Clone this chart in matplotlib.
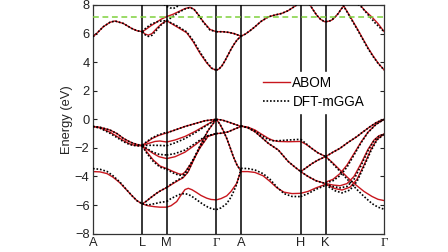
import matplotlib
matplotlib.use('Agg')
import matplotlib.pyplot as plt
from matplotlib.lines import Line2D

plt.rcParams['font.family'] = ['Liberation Sans', 'DejaVu Sans']

# high-symmetry path (k in path units) and labels
nodes_k = [0, 49.3, 73.7, 123.3, 148, 207.7, 232.7, 291.3]
node_labels = ['A', 'L', 'M', 'Γ', 'A', 'H', 'K', 'Γ']
fermi_line = 7.17
y_ticks = [-8, -6, -4, -2, 0, 2, 4, 6, 8]
series_names = ['ABOM', 'DFT-mGGA']

# ---- ABOM bands, per path segment: (k, E) ----
abom_AL = [
    ([0, 7, 17, 24, 30.3, 36, 40.3, 45, 49.3], [-0.5, -0.56, -0.75, -1.0, -1.33, -1.55, -1.68, -1.78, -1.82]),
    ([0, 7, 17, 24, 30.3, 36, 40.3, 45, 49.3], [-0.5, -0.6, -0.9, -1.2, -1.48, -1.7, -1.8, -1.85, -1.85]),
    ([0, 7, 14, 20, 27, 33, 39, 44, 49.3], [-3.66, -3.68, -3.8, -4.05, -4.45, -4.9, -5.35, -5.7, -5.92]),
    ([0, 3.7, 10.3, 17, 22, 30.3, 38.7, 44, 49.3], [5.78, 6.01, 6.48, 6.79, 6.88, 6.71, 6.36, 6.2, 6.13]),
]
abom_LM = [
    ([49.3, 54, 59, 65, 73.7], [-1.82, -1.6, -1.35, -1.15, -0.95]),
    ([49.3, 55, 62, 67, 73.7], [-1.85, -1.7, -1.55, -1.52, -1.59]),
    ([49.3, 54, 60, 66, 73.7], [-1.85, -2.1, -2.38, -2.62, -2.75]),
    ([49.3, 54, 60.3, 67, 73.7], [-1.85, -2.3, -2.85, -3.27, -3.45]),
    ([49.3, 53, 57, 63.7, 68, 73.7], [-5.92, -5.75, -5.52, -5.17, -4.98, -4.78]),
    ([49.3, 55, 62, 67, 73.7], [-5.92, -6.05, -6.12, -6.15, -6.15]),
    ([49.3, 53, 58, 63.7, 68, 73.7], [6.13, 6.3, 6.55, 6.8, 7.0, 7.19]),
    ([49.3, 52, 55.3, 59, 63.7, 68, 73.7], [6.13, 5.97, 5.89, 6.0, 6.36, 6.65, 6.9]),
]
abom_MG = [
    ([73.7, 82, 92, 102, 112, 123.3], [-0.95, -0.75, -0.5, -0.3, -0.1, 0.0]),
    ([73.7, 82, 92, 102, 112, 123.3], [-1.59, -1.45, -1.2, -0.85, -0.45, 0.0]),
    ([73.7, 82, 92, 102, 112, 123.3], [-2.75, -2.62, -2.3, -1.8, -1.25, -1.0]),
    ([73.7, 80, 86, 89, 92, 99, 107, 115, 123.3], [-3.45, -3.65, -3.82, -3.85, -3.7, -3.0, -2.0, -1.2, -1.0]),
    ([73.7, 80, 86, 90, 95, 100, 107, 115, 123.3], [-4.78, -4.5, -4.25, -4.1, -3.7, -2.95, -1.9, -0.8, 0.0]),
    ([73.7, 78, 83.7, 88, 92, 95.3, 99, 103.7, 108, 113.7, 118, 123.3],
     [-6.15, -6.05, -5.76, -5.3, -4.92, -4.83, -4.93, -5.13, -5.33, -5.52, -5.61, -5.64]),
    ([73.7, 80, 86, 92, 97, 101, 105, 110.3, 117, 123.3], [7.19, 7.35, 7.55, 7.75, 7.84, 7.7, 7.35, 6.83, 6.29, 6.13]),
    ([73.7, 83.7, 93.7, 100.3, 107, 113.7, 118.7, 123.3], [6.9, 6.48, 6.06, 5.42, 4.62, 3.95, 3.56, 3.44]),
]
abom_GA = [
    ([123.3, 129, 135, 141, 148], [0.0, -0.05, -0.18, -0.33, -0.5]),
    ([123.3, 129, 135, 141, 148], [-1.0, -0.97, -0.88, -0.7, -0.5]),
    ([123.3, 127, 130, 133.7, 137, 140.3, 144, 148], [0.0, -0.35, -0.75, -1.33, -1.95, -2.61, -3.2, -3.62]),
    ([123.3, 128, 133.7, 138, 141, 143.7, 146, 148], [-5.64, -5.55, -5.36, -5.05, -4.75, -4.48, -4.0, -3.64]),
    ([123.3, 126, 129, 132, 135, 138, 141, 144, 148], [3.44, 3.52, 3.75, 4.1, 4.5, 4.9, 5.25, 5.55, 5.82]),
    ([123.3, 130, 136, 141, 148], [6.13, 6.13, 6.08, 6.0, 5.82]),
]
abom_AH = [
    ([148, 155, 162, 168, 175.3, 180, 185.3, 195.3, 207.7], [-0.47, -0.55, -0.75, -1.02, -1.33, -1.48, -1.55, -1.57, -1.55]),
    ([148, 155, 162, 168.3, 175.3, 185.3, 195.3, 202, 207.7], [-0.47, -0.6, -0.87, -1.25, -1.68, -2.15, -2.96, -3.35, -3.66]),
    ([148, 155, 162, 170, 177, 184, 191, 199, 207.7], [-3.66, -3.66, -3.72, -3.95, -4.35, -4.8, -5.1, -5.2, -5.18]),
    ([148, 152, 157, 162, 168, 175.3, 182, 188.7, 195, 202, 207.7], [5.82, 5.95, 6.2, 6.48, 6.85, 7.17, 7.3, 7.41, 7.6, 7.92, 8.2]),
]
abom_HK = [
    ([207.7, 213, 219, 225, 232.7], [-1.55, -1.75, -2.05, -2.35, -2.61]),
    ([207.7, 213, 219, 225, 232.7], [-3.66, -3.4, -3.1, -2.85, -2.61]),
    ([207.7, 215, 223, 232.7], [-3.66, -4.0, -4.3, -4.5]),
    ([207.7, 215, 223, 232.7], [-5.18, -5.05, -4.8, -4.55]),
    ([214, 217, 220.5, 223.7, 227.5, 231.3, 232.7], [8.25, 8.0, 7.62, 7.29, 7.0, 6.84, 6.83]),
]
abom_KG = [
    ([232.7, 240, 247, 255, 263.7, 270, 277, 284, 291.3], [-2.61, -2.3, -2.03, -1.62, -1.22, -0.88, -0.52, -0.2, 0.0]),
    ([232.7, 239, 247, 255, 263, 271, 279, 285, 291.3], [-2.61, -3.0, -3.55, -4.1, -4.6, -5.05, -5.4, -5.6, -5.69]),
    ([232.7, 240, 247, 254, 261, 268, 275, 281, 286, 291.3], [-4.5, -4.6, -4.65, -4.5, -4.0, -3.1, -2.1, -1.45, -1.15, -1.03]),
    ([232.7, 240, 247, 254, 261, 268, 275, 283, 291.3], [-4.4, -4.2, -3.8, -3.2, -2.4, -1.6, -0.9, -0.35, 0.0]),
    ([232.7, 242, 249, 257, 264, 271, 278, 284, 291.3], [-4.55, -4.85, -4.95, -4.75, -4.2, -3.2, -2.1, -1.4, -1.03]),
    ([232.7, 236, 238.7, 242, 245.3, 248, 251], [6.83, 6.87, 6.94, 7.15, 7.41, 7.7, 7.95]),
    ([250, 255, 260, 265, 270, 275, 280, 285, 291.3], [8.0, 7.45, 6.85, 6.25, 5.62, 5.0, 4.45, 3.95, 3.44]),
    ([267, 272, 278.7, 285, 291.3], [8.0, 7.6, 7.17, 6.7, 6.12]),
]

# ---- DFT-mGGA bands ----
dft_AL = [
    abom_AL[0],
    ([0, 7, 17, 24, 30.3, 36, 40.3, 45, 49.3], [-0.5, -0.62, -0.98, -1.28, -1.56, -1.75, -1.83, -1.86, -1.85]),
    ([0, 7, 14, 20, 27, 33, 39, 44, 49.3], [-3.45, -3.5, -3.65, -3.95, -4.4, -4.88, -5.35, -5.7, -5.92]),
    abom_AL[3],
]
dft_LM = [
    ([49.3, 54, 59, 65, 73.7], [-1.8, -1.55, -1.3, -1.1, -0.9]),
    ([49.3, 55, 62, 67, 73.7], [-1.85, -1.82, -1.82, -1.83, -1.85]),
    ([49.3, 54, 60, 66, 73.7], [-1.85, -2.05, -2.3, -2.45, -2.5]),
    ([49.3, 54, 60.3, 67, 73.7], [-1.88, -2.4, -2.95, -3.35, -3.5]),
    abom_LM[4],
    ([49.3, 55, 62, 67, 73.7], [-5.92, -6.0, -5.9, -5.82, -5.75]),
    ([49.3, 53, 58, 63.7, 68, 73.7], [6.13, 6.4, 6.65, 6.82, 6.88, 6.9]),
    ([49.3, 52, 55.3, 59, 63.7, 68, 73.7], [6.13, 5.92, 5.8, 5.88, 6.25, 6.6, 6.9]),
    ([71, 73.7, 77, 80.3, 83, 86], [8.05, 7.9, 7.8, 7.76, 7.83, 8.0]),
]
dft_MG = [
    abom_MG[0],
    ([73.7, 82, 92, 102, 112, 123.3], [-1.85, -1.65, -1.35, -0.95, -0.5, 0.0]),
    ([73.7, 82, 92, 102, 112, 123.3], [-2.5, -2.4, -2.15, -1.7, -1.2, -1.0]),
    ([73.7, 80, 86, 90, 93, 99, 107, 115, 123.3], [-3.5, -3.75, -3.92, -3.9, -3.65, -2.95, -1.95, -1.15, -1.0]),
    ([73.7, 80, 86, 90, 95, 100, 107, 115, 123.3], [-4.75, -4.45, -4.2, -4.05, -3.65, -2.9, -1.85, -0.78, 0.0]),
    ([73.7, 78, 83.7, 88, 92, 96, 100, 105, 110, 115, 119, 123.3],
     [-5.75, -5.55, -5.35, -5.22, -5.2, -5.28, -5.45, -5.7, -5.95, -6.15, -6.27, -6.32]),
    ([73.7, 80, 86, 92, 97, 101, 105, 110.3, 117, 123.3], [6.9, 7.2, 7.5, 7.72, 7.82, 7.7, 7.35, 6.8, 6.25, 6.13]),
    ([73.7, 83.7, 93.7, 100.3, 107, 113.7, 118.7, 123.3], [6.9, 6.55, 6.12, 5.5, 4.7, 4.0, 3.58, 3.44]),
]
dft_GA = [
    abom_GA[0], abom_GA[1], abom_GA[2],
    ([123.3, 128, 133.7, 138, 141, 143.7, 146, 148], [-6.32, -6.2, -5.9, -5.45, -5.0, -4.55, -4.0, -3.45]),
    abom_GA[4], abom_GA[5],
]
dft_AH = [
    ([148, 155, 162, 168, 175.3, 180, 185.3, 195.3, 207.7], [-0.47, -0.57, -0.82, -1.12, -1.42, -1.5, -1.5, -1.45, -1.4]),
    abom_AH[1],
    ([148, 155, 162, 170, 177, 184, 191, 199, 207.7], [-3.43, -3.45, -3.55, -3.8, -4.2, -4.75, -5.2, -5.4, -5.41]),
    abom_AH[3],
]
dft_HK = [
    ([207.7, 213, 219, 225, 232.7], [-1.4, -1.7, -2.05, -2.35, -2.61]),
    abom_HK[1], abom_HK[2],
    ([207.7, 215, 223, 232.7], [-5.41, -5.2, -4.9, -4.62]),
    abom_HK[4],
]
dft_KG = [
    abom_KG[0],
    ([232.7, 239, 247, 255, 263, 271, 279, 285, 291.3], [-2.61, -3.05, -3.65, -4.25, -4.85, -5.4, -5.9, -6.15, -6.3]),
    ([232.7, 240, 247, 254, 261, 268, 275, 281, 286, 291.3], [-4.55, -4.7, -4.8, -4.7, -4.2, -3.25, -2.2, -1.5, -1.18, -1.03]),
    ([232.7, 240, 247, 254, 261, 268, 275, 283, 291.3], [-4.45, -4.3, -3.95, -3.35, -2.5, -1.65, -0.92, -0.36, 0.0]),
    ([232.7, 242, 249, 257, 264, 271, 278, 284, 291.3], [-4.6, -5.0, -5.15, -4.95, -4.35, -3.3, -2.2, -1.45, -1.03]),
    abom_KG[5],
    ([250, 255, 260, 265, 270, 275, 280, 285, 291.3], [8.0, 7.4, 6.8, 6.2, 5.57, 4.95, 4.4, 3.92, 3.44]),
    ([265, 268.7, 275.3, 282, 291.3], [8.05, 7.85, 7.3, 6.75, 6.12]),
]

abom_segments = [abom_AL, abom_LM, abom_MG, abom_GA, abom_AH, abom_HK, abom_KG]
dft_segments = [dft_AL, dft_LM, dft_MG, dft_GA, dft_AH, dft_HK, dft_KG]

RED = '#c8161d'
FS = 9.3
LFS = 9.8

fig = plt.figure(figsize=(4.48, 2.52), dpi=100)
ax = fig.add_axes([93 / 448, 1 - 233.6 / 252, (384.3 - 93) / 448, (233.6 - 5) / 252])

for seg in abom_segments:
    for k, e in seg:
        ax.plot(k, e, color=RED, lw=1.0, zorder=2, solid_capstyle='butt')
for seg in dft_segments:
    for k, e in seg:
        ax.plot(k, e, color='black', lw=1.2, ls=(0, (1, 1.1)), zorder=3)

for kn in nodes_k[1:-1]:
    ax.axvline(kn, color='black', lw=1.1, zorder=4)
ax.axhline(fermi_line, color='#7ed13c', lw=1.1, ls=(0, (3.8, 2.4)), zorder=5)

ax.set_xlim(nodes_k[0], nodes_k[-1])
ax.set_ylim(-8, 8)
ax.set_yticks(y_ticks)
ax.set_xticks(nodes_k)
ax.set_xticklabels(node_labels)
for lab in ax.get_xticklabels():
    if lab.get_text() == 'Γ':
        lab.set_fontfamily(['Liberation Serif', 'DejaVu Serif'])
ax.tick_params(axis='y', direction='in', length=3, width=0.8, right=True,
               labelsize=FS, pad=2.5, colors='#222222')
ax.tick_params(axis='x', length=0, labelsize=FS, pad=2.5, colors='#222222')
for sp in ax.spines.values():
    sp.set_linewidth(0.9)
    sp.set_color('#333333')
ax.set_ylabel('Energy (eV)', fontsize=FS, labelpad=1.5, color='#222222')

handles = [Line2D([], [], color=RED, lw=1.0),
           Line2D([], [], color='black', lw=1.2, ls=(0, (1, 1.1)))]
leg = ax.legend(handles, series_names, loc='upper left', bbox_to_anchor=(0.57, 0.709),
                borderaxespad=0, frameon=True, framealpha=1, edgecolor='white',
                facecolor='white', fancybox=False, fontsize=LFS, handlelength=2.0,
                handletextpad=0.15, labelspacing=0.4, borderpad=0.3)
leg.set_zorder(10)

fig.savefig('out.png', dpi=100)
